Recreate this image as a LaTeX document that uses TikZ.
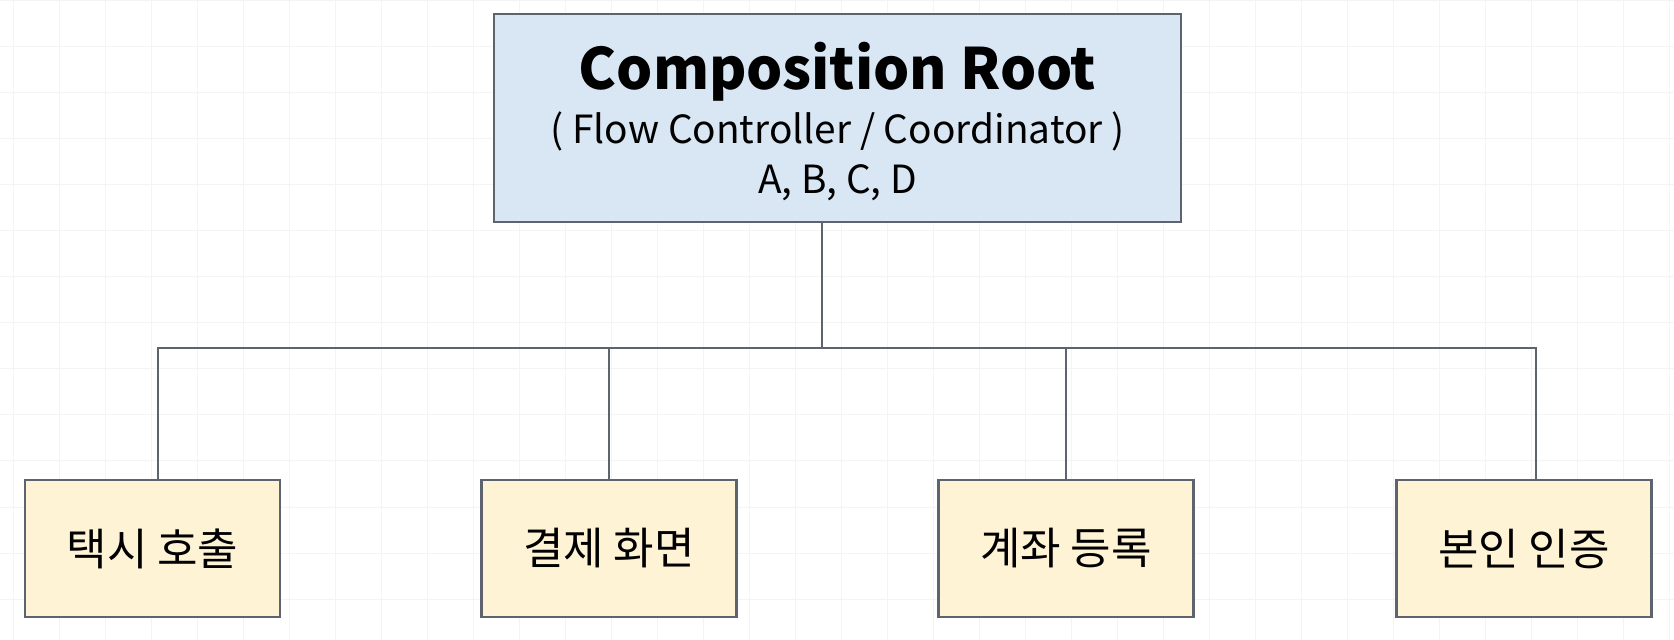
\documentclass[tikz,border=0pt]{standalone}
\usepackage{fontspec}
\setmainfont{Noto Sans CJK KR}
\definecolor{rootfill}{HTML}{D9E6F4}
\definecolor{leaffill}{HTML}{FFF3D6}
\definecolor{edge}{HTML}{5E6370}
\definecolor{gridline}{HTML}{F4F4F6}

\begin{document}
\begin{tikzpicture}[x=0.5pt, y=-0.5pt,
    rootbox/.style={rectangle, draw=edge, line width=1.2pt, fill=rootfill,
        minimum width=343.5pt, minimum height=104pt, inner sep=0pt,
        align=center, text depth=0pt, font=\fontsize{19.4}{25}\selectfont},
    leafbox/.style={rectangle, draw=edge, line width=1.2pt, fill=leaffill,
        minimum width=127.5pt, minimum height=68.5pt, inner sep=0pt,
        font=\fontsize{22}{26}\selectfont},
    link/.style={draw=edge, line width=1.2pt}]
    \fill[white] (0,0) rectangle (1674,640);
    \useasboundingbox (0,0) rectangle (1674,640);
    % background grid
    \foreach \gx in {13,59,...,1674}
        \draw[gridline, line width=0.5pt] (\gx,0) -- (\gx,640);
    \foreach \gy in {1,47,...,640}
        \draw[gridline, line width=0.5pt] (0,\gy) -- (1674,\gy);

    \node[rootbox] (root) at (837.5,118) {{\fontsize{28.5}{29}\selectfont\bfseries Composition Root}\\[2pt]
        ( Flow Controller / Coordinator )\\
        A, B, C, D};

    \node[leafbox] (taxi) at (152.5,548.5) {택시 호출};
    \node[leafbox] (pay) at (609,548.5) {결제 화면};
    \node[leafbox] (account) at (1066,548.5) {계좌 등록};
    \node[leafbox] (auth) at (1524,548.5) {본인 인증};

    \coordinate (bustop) at (822,348);
    \coordinate (bus1) at (158,348);
    \coordinate (bus2) at (609,348);
    \coordinate (bus3) at (1066,348);
    \coordinate (bus4) at (1536,348);

    \draw[link] (root.south -| bustop) -- (bustop);
    \draw[link] (taxi.north -| bus1) -- (bus1) -- (bus4) -- (auth.north -| bus4);
    \draw[link] (bus2) -- (pay.north -| bus2);
    \draw[link] (bus3) -- (account.north -| bus3);
\end{tikzpicture}
\end{document}
